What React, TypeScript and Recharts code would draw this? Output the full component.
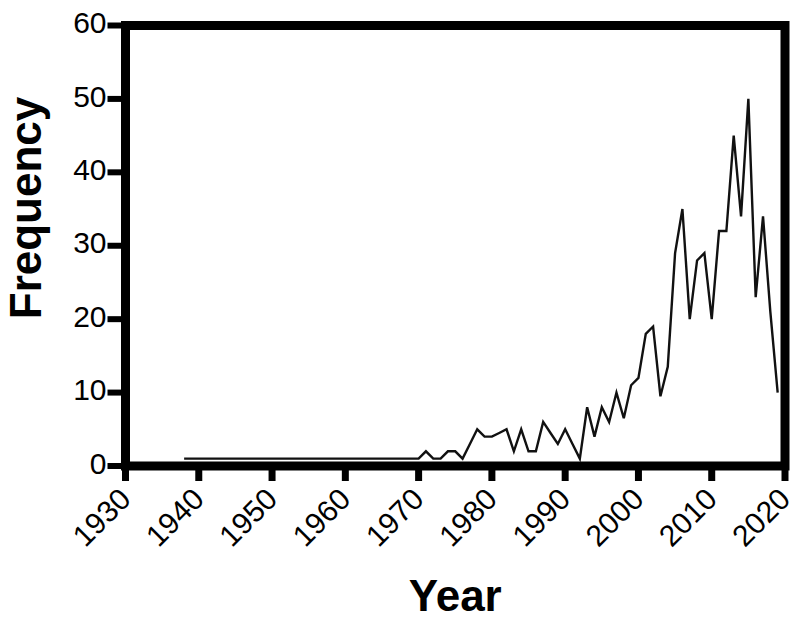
import { Label, Line, LineChart, ReferenceArea, XAxis, YAxis } from "recharts"

const years = [
  1938, 1939, 1940, 1941, 1942, 1943, 1944, 1945, 1946, 1947, 1948, 1949,
  1950, 1951, 1952, 1953, 1954, 1955, 1956, 1957, 1958, 1959, 1960, 1961,
  1962, 1963, 1964, 1965, 1966, 1967, 1968, 1969, 1970, 1971, 1972, 1973,
  1974, 1975, 1976, 1977, 1978, 1979, 1980, 1981, 1982, 1983, 1984, 1985,
  1986, 1987, 1988, 1989, 1990, 1991, 1992, 1993, 1994, 1995, 1996, 1997,
  1998, 1999, 2000, 2001, 2002, 2003, 2004, 2005, 2006, 2007, 2008, 2009,
  2010, 2011, 2012, 2013, 2014, 2015, 2016, 2017, 2018, 2019,
]

const counts = [
  1, 1, 1, 1, 1, 1, 1, 1, 1, 1, 1, 1,
  1, 1, 1, 1, 1, 1, 1, 1, 1, 1, 1, 1,
  1, 1, 1, 1, 1, 1, 1, 1, 1, 2, 1, 1,
  2, 2, 1, 3, 5, 4, 4, 4.5, 5, 2, 5, 2,
  2, 6, 4.5, 3, 5, 3, 1, 8, 4, 8, 6, 10,
  6.5, 11, 12, 18, 19, 9.5, 13.5, 29, 35, 20, 28, 29,
  20, 32, 32, 45, 34, 50, 23, 34, 21, 10,
]

const xTicks = [1930, 1940, 1950, 1960, 1970, 1980, 1990, 2000, 2010, 2020]
const yTicks = [0, 10, 20, 30, 40, 50, 60]

const data = years.map((year, i) => ({ year, count: counts[i] }))

const font = "'Liberation Sans', Arial, sans-serif"

function YearTick(props: any) {
  const { x, y, payload } = props
  const bx = x + 7
  const by = y + 18
  return (
    <text
      x={bx}
      y={by}
      transform={`rotate(-45, ${bx}, ${by})`}
      textAnchor="end"
      fontSize={30}
      fontFamily={font}
      fill="#000"
    >
      {payload.value}
    </text>
  )
}

function FreqTick(props: any) {
  const { x, y, payload } = props
  return (
    <text
      x={x}
      y={y - 3}
      dy="0.355em"
      textAnchor="end"
      fontSize={30}
      fontFamily={font}
      fill="#000"
    >
      {payload.value}
    </text>
  )
}

export default function App() {
  return (
    <div style={{ position: "absolute", left: 0, top: 0 }}>
      <LineChart
        width={800}
        height={619}
        data={data}
        margin={{ top: 25.5, right: 15, bottom: 0, left: 0 }}
      >
        <XAxis
          dataKey="year"
          type="number"
          domain={[1930, 2020]}
          ticks={xTicks}
          height={153}
          axisLine={false}
          tickLine={{ stroke: "#000", strokeWidth: 7 }}
          tickSize={15}
          tickMargin={2}
          tick={<YearTick />}
          interval={0}
        >
          <Label
            content={(p: any) => {
              const vb = p.viewBox
              const cx = vb.x + vb.width / 2
              return (
                <text
                  x={cx}
                  y={611}
                  textAnchor="middle"
                  fontSize={44}
                  fontWeight="bold"
                  fontFamily={font}
                  fill="#000"
                >
                  Year
                </text>
              )
            }}
          />
        </XAxis>
        <YAxis
          type="number"
          domain={[0, 60]}
          ticks={yTicks}
          width={125.5}
          axisLine={false}
          tickLine={{ stroke: "#000", strokeWidth: 6 }}
          tickSize={18}
          tickMargin={1}
          tick={<FreqTick />}
          interval={0}
        >
          <Label
            content={() => (
              <text
                x={41}
                y={208}
                transform="rotate(-90, 41, 208)"
                textAnchor="middle"
                fontSize={44}
                fontWeight="bold"
                fontFamily={font}
                fill="#000"
              >
                Frequency
              </text>
            )}
          />
        </YAxis>
        <ReferenceArea
          x1={1930}
          x2={2020}
          y1={0}
          y2={60}
          fill="none"
          fillOpacity={0}
          stroke="#000"
          strokeWidth={9}
          strokeOpacity={1}
        />
        <Line
          type="linear"
          dataKey="count"
          stroke="#111"
          strokeWidth={2.4}
          dot={false}
          isAnimationActive={false}
        />
      </LineChart>
    </div>
  )
}
